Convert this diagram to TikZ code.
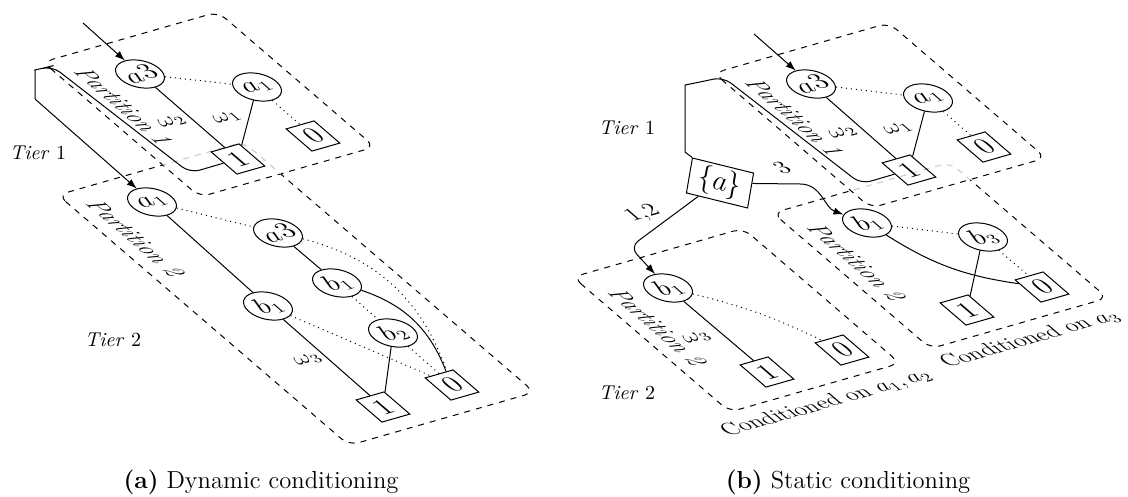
\documentclass[tikz,border=0pt]{standalone}
\usetikzlibrary{arrows.meta,calc}
\tikzset{
  pl/.style={cm={0.961,0.275,-0.758,0.652,(0,0)}},
  bdd/.style={pl, draw, circle, minimum size=20pt, inner sep=0.5pt, font=\fontsize{13.5}{15}\selectfont},
  term/.style={pl, draw, rectangle, minimum width=14.5pt, minimum height=17pt, inner sep=0pt, font=\Large},
  part/.style={draw, dashed, rounded corners=5pt},
  hid/.style={draw=black!22, dashed, rounded corners=5pt},
  lo/.style={dotted},
  arr/.style={-{Latex[length=5pt,width=3.6pt]}},
  plab/.style={pl, rotate=-90, font=\large\itshape},
  wlab/.style={pl, font=\large},
  cond/.style={pl, anchor=north, inner sep=4pt, font=\fontsize{11.5}{13}\selectfont},
  captext/.style={font=\fontsize{12.3}{14}\selectfont},
}
\begin{document}
\begin{tikzpicture}[x=0.5pt,y=-0.5pt,line width=0.5pt]
\useasboundingbox (0,0) rectangle (1128,497);

% ---------- partition frames, panel (a)
\begin{scope}[shift={(43,62)},pl] \path[part] (0,0) rectangle (182,207); \end{scope}
\begin{scope}
  \clip (0,0) -- (1128,0) -- (1128,497) -- (0,497) -- cycle
        (43,62) -- (200,197) -- (375,147) -- (218,12) -- cycle;
  \begin{scope}[shift={(58,195)},pl] \path[part] (0,0) rectangle (193,384); \end{scope}
\end{scope}
\begin{scope}
  \clip (43,62) -- (200,197) -- (375,147) -- (218,12) -- cycle;
  \begin{scope}[shift={(58,195)},pl] \path[hid] (0,0) rectangle (193,384); \end{scope}
\end{scope}

% ---------- partition frames, panel (b)
\begin{scope}[shift={(714,73)},pl] \path[part] (0,0) rectangle (182,207); \end{scope}
\begin{scope}[shift={(573,277)},pl] \path[part] (0,0) rectangle (177,207); \end{scope}
\begin{scope}
  \clip (0,0) -- (1128,0) -- (1128,497) -- (0,497) -- cycle
        (714,73) -- (871,208) -- (1046,158) -- (889,23) -- cycle;
  \begin{scope}[shift={(773,213)},pl] \path[part] (0,0) rectangle (184,208); \end{scope}
\end{scope}
\begin{scope}
  \clip (714,73) -- (871,208) -- (1046,158) -- (889,23) -- cycle;
  \begin{scope}[shift={(773,213)},pl] \path[hid] (0,0) rectangle (184,208); \end{scope}
\end{scope}

% ---------- labels outside planes
\node (t1a) at (38,153) {\textit{Tier} 1};
\node (t2a) at (113,340) {\textit{Tier} 2};
\node (t1b) at (627,128) {\textit{Tier} 1};
\node (t2b) at (627,393) {\textit{Tier} 2};
\node[captext] (capa) at (261,482) {\textbf{(a)} Dynamic conditioning};
\node[captext] (capb) at (848,482) {\textbf{(b)} Static conditioning};

% ---------- panel (a), tier 1
\node[plab] (pa1) at (123,106) {Partition 1};
\node[bdd] (a3a) at (140,74) {$a3$};
\node[bdd] (a1a) at (257,87) {$a_1$};
\node[term] (z1a) at (313,136) {0};
\node[term] (o1a) at (238,159) {1};
\coordinate (ina) at (83,23);
\draw[arr] (ina) -- (a3a);
\draw[lo] (a3a) -- (a1a);
\draw (a3a) -- (o1a);
\draw (a1a) -- (o1a);
\draw[lo] (a1a) -- (z1a);
\node[wlab] (w2a) at (172,122) {$\omega_2$};
\node[wlab] (w1a) at (227,118) {$\omega_1$};

% ---------- panel (a), tier 2
\node[plab] (pa2) at (135,238) {Partition 2};
\node[bdd] (a1p) at (152,202) {$a_1$};
\node[bdd] (a3p) at (278,233) {$a3$};
\node[bdd] (b1r) at (337,283) {$b_1$};
\node[bdd] (b1l) at (268,306) {$b_1$};
\node[bdd] (b2p) at (393,333) {$b_2$};
\node[term] (o2a) at (383,407) {1};
\node[term] (z2a) at (452,385) {0};
\draw (a1p) -- (b1l);
\draw[lo] (a1p) -- (a3p);
\draw (a3p) -- (b1r);
\draw[lo] (a3p) to[bend left=28] (z2a);
\draw (b1r) to[bend left=25] (z2a);
\draw[lo] (b1r) -- (b2p);
\draw (b2p) -- (o2a);
\draw[lo] (b2p) -- (z2a);
\draw (b1l) -- (o2a);
\draw[lo] (b1l) -- (z2a);
\node[wlab] (w3a) at (308,360) {$\omega_3$};

% slab from tier 1 down to tier 2 (a)
\draw[arr] (o1a.west) [rounded corners=5pt] -- (190,173) -- (52,66) -- (44,68)
  [sharp corners] -- (35,70) -- (35,99) -- (a1p);

% ---------- panel (b), tier 1
\node[plab] (pb1) at (794,117) {Partition 1};
\node[bdd] (a3b) at (811,84) {$a3$};
\node[bdd] (a1b) at (928,98) {$a_1$};
\node[term] (z1b) at (984,147) {0};
\node[term] (o1b) at (909,170) {1};
\coordinate (inb) at (754,34);
\draw[arr] (inb) -- (a3b);
\draw[lo] (a3b) -- (a1b);
\draw (a3b) -- (o1b);
\draw (a1b) -- (o1b);
\draw[lo] (a1b) -- (z1b);
\node[wlab] (w2b) at (843,133) {$\omega_2$};
\node[wlab] (w1b) at (898,129) {$\omega_1$};

% set node
\node[draw, cm={0.971,-0.239,0.169,0.986,(0,0)}, minimum width=31.5pt,
      minimum height=17.7pt, inner sep=0pt, font=\Large] (setb) at (720,183) {$\{a\}$};
\draw (o1b.west) [rounded corners=5pt] -- (861,184) -- (723,77) -- (705,81)
  [sharp corners] -- (685,85) -- (685,152) -- (setb.north west);

% ---------- panel (b), left tier 2
\node[plab] (pb2l) at (657,327) {Partition 2};
\node[bdd] (b1bl) at (668,288) {$b_1$};
\node[term] (o2bl) at (767,372) {1};
\node[term] (z2bl) at (842,350) {0};
\draw (b1bl) -- (o2bl);
\draw[lo] (b1bl) to[bend left=6] (z2bl);
\node[wlab] (w3b) at (697,338) {$\omega_3$};
\node[cond] (cl) at (812,391) {Conditioned on $a_1,a_2$};

% ---------- panel (b), right tier 2
\node[plab] (pb2r) at (856,262) {Partition 2};
\node[bdd] (b1br) at (867,223) {$b_1$};
\node[bdd] (b3br) at (983,237) {$b_3$};
\node[term] (o2br) at (967,310) {1};
\node[term] (z2br) at (1042,287) {0};
\draw[lo] (b1br) -- (b3br);
\draw (b1br) to[bend right=12] (z2br);
\draw (b3br) -- (o2br);
\draw[lo] (b3br) -- (z2br);
\node[cond] (cr) at (1016,327) {Conditioned on $a_3$};

% arrows from set node
\draw[arr] ($(setb.north east)!0.3!(setb.south east)$) -- (800,184) to[out=0,in=145] (b1br);
\draw[arr, rounded corners=5pt] ($(setb.south west)!0.2!(setb.south east)$) -- (630,247) -- (b1bl);
\node[wlab] (l3) at (782,168) {3};
\node[wlab] (l12) at (643,214) {1,2};

\end{tikzpicture}
\end{document}
